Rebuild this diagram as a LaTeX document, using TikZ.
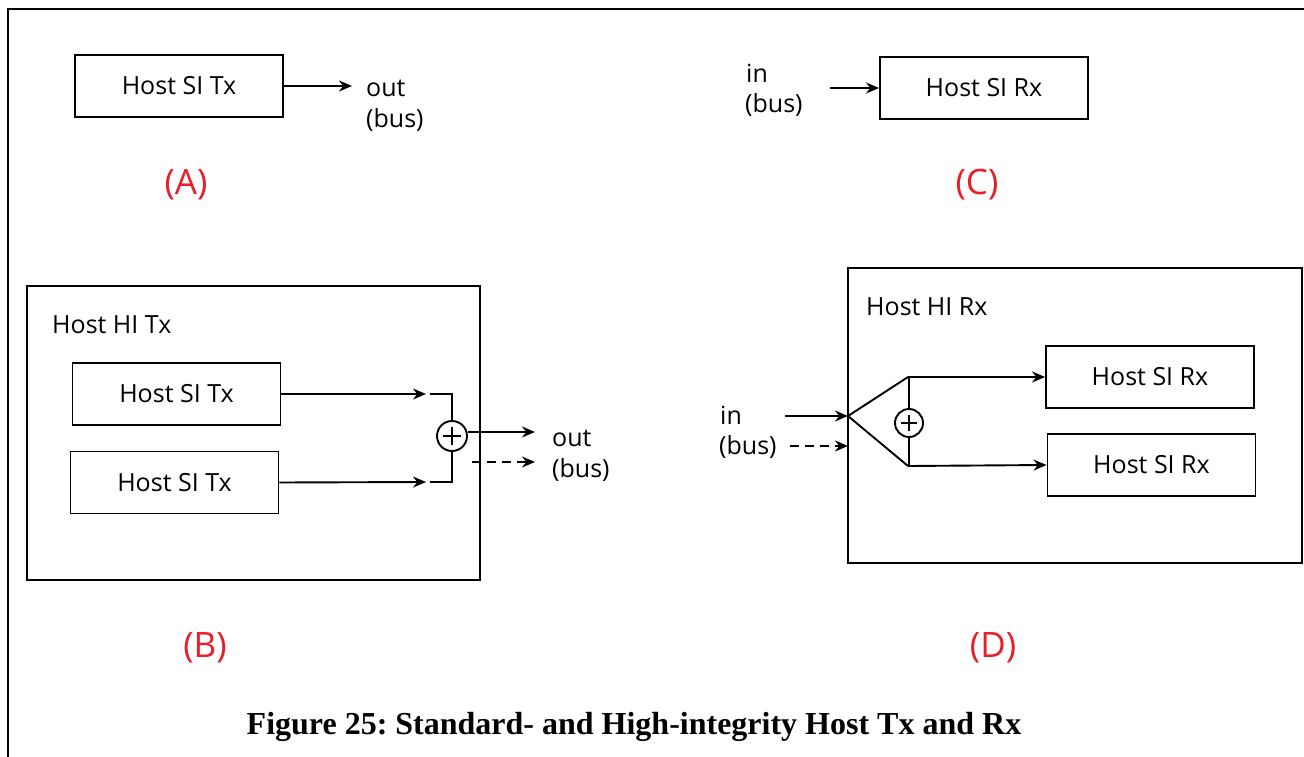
\documentclass[tikz,border=0pt]{standalone}
\usepackage{fontspec}
\setmainfont{Open Sans}
\newfontfamily\capfont{Liberation Serif}
\usetikzlibrary{arrows.meta}
\definecolor{lblred}{RGB}{232,30,40}
\begin{document}
\frenchspacing
\begin{tikzpicture}[x=1pt,y=-1pt,
  sibox/.style={draw,line width=1.9pt,minimum width=208pt,minimum height=62pt,inner sep=0pt,font=\fontsize{25}{30}\selectfont},
  hibox/.style={draw,line width=1.9pt,inner sep=0pt},
  lbl/.style={font=\fontsize{25}{30}\selectfont,inner sep=0pt},
  red/.style={text=lblred,font=\fontsize{35}{40}\selectfont,inner sep=0pt},
  conn/.style={line width=1.9pt,-{Stealth[length=13pt,width=11pt]}},
  dconn/.style={line width=1.7pt,dash pattern=on 9pt off 6pt,-{Stealth[length=13pt,width=11pt]}},
  wire/.style={line width=1.9pt},
  sum/.style={draw,circle,line width=1.9pt,minimum size=30pt,inner sep=0pt}
]
\useasboundingbox (0,0) rectangle (1304,757);
\fill[white] (0,0) rectangle (1304,757);
\draw[line width=1.8pt] (8,757) -- (8,9) -- (1304,9);

% (A)
\node[sibox] (a) at (179,86) {Host SI Tx};
\coordinate (aout) at (352,86);
\draw[conn] (a.east) -- (aout);
\node[lbl,anchor=west] (aoutl) at (366,88) {out};
\node[lbl,anchor=west] (abus) at (366,120) {(bus)};
\node[red] (A) at (186,185) {(A)};

% (C)
\node[sibox] (c) at (984,88) {Host SI Rx};
\coordinate (cin) at (830,88);
\draw[conn] (cin) -- (c.west);
\node[lbl,anchor=west] (cinl) at (746,73) {in};
\node[lbl,anchor=west] (cbus) at (745,105) {(bus)};
\node[red] (C) at (977,185) {(C)};

% (B)
\node[hibox,minimum width=453pt,minimum height=294pt] (b) at (253.5,433) {};
\node[lbl,anchor=west] (bl) at (52,325) {Host HI Tx};
\node[sibox] (b1) at (176.5,394) {Host SI Tx};
\node[sibox] (b2) at (174.5,482.5) {Host SI Tx};
\node[sum] (bs) at (452,436) {};
\draw[line width=1.6pt] (bs.center) ++(-9,0) -- ++(18,0) (bs.center) ++(0,-9) -- ++(0,18);
\coordinate (b1a) at (426,394);
\coordinate (b2a) at (426,482);
\draw[conn] (b1.east) -- (b1a);
\draw[conn] (b2.east) -- (b2a);
\draw[wire] (430,394) -| (bs.north);
\draw[wire] (430,482) -| (bs.south);
\coordinate (bo1) at (535,432);
\coordinate (bo2s) at (472,462);
\coordinate (bo2) at (535,462);
\draw[conn] (bs.east |- bo1) -- (bo1);
\draw[dconn] (bo2s) -- (bo2);
\node[lbl,anchor=west] (boutl) at (552,438) {out};
\node[lbl,anchor=west] (bbus) at (552,470) {(bus)};
\node[red] (B) at (205,648) {(B)};

% (D)
\node[hibox,minimum width=454pt,minimum height=295pt] (d) at (1075,415.5) {};
\node[lbl,anchor=west] (dl) at (866,307) {Host HI Rx};
\node[sibox] (d1) at (1150,377) {Host SI Rx};
\node[sibox] (d2) at (1151.5,465) {Host SI Rx};
\coordinate (apex) at (848,416);
\coordinate (tv) at (908,377);
\coordinate (bv) at (908,466);
\node[sum,minimum size=28pt] (ds) at (909,423) {};
\draw[line width=1.6pt] (ds.center) ++(-8,0) -- ++(16,0) (ds.center) ++(0,-8) -- ++(0,16);
\draw[wire,line join=miter] (tv) -- (apex) -- (bv);
\draw[wire] (tv) -- (tv -| ds.north) -- (ds.north);
\draw[wire] (bv) -- (bv -| ds.south) -- (ds.south);
\draw[conn] (tv) -- (d1.west);
\draw[conn] (bv) -- (d2.west);
\coordinate (din) at (785,416);
\coordinate (dins) at (790,446);
\coordinate (dine) at (848,446);
\draw[conn] (din) -- (apex);
\draw[dconn] (dins) -- (dine);
\node[lbl,anchor=west] (dinl) at (720,415) {in};
\node[lbl,anchor=west] (dbus) at (719,447) {(bus)};
\node[red] (D) at (993,648) {(D)};

% caption
\node[font=\capfont\bfseries\fontsize{32}{36}\selectfont,inner sep=0pt] (cap) at (634,727) {Figure 25: Standard- and High-integrity Host Tx and Rx};
\end{tikzpicture}
\end{document}
